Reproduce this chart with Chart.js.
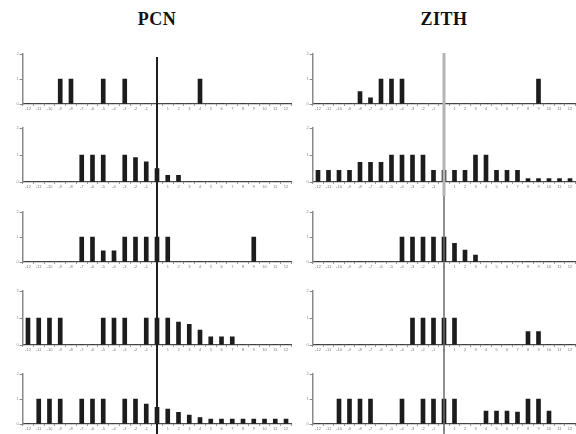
<!DOCTYPE html>
<html><head><meta charset="utf-8">
<script src="https://cdn.jsdelivr.net/npm/chart.js@4/dist/chart.umd.min.js"></script>
<style>
html,body{margin:0;padding:0;background:#fff}
body{width:576px;height:434px;overflow:hidden;position:relative;font-family:"Liberation Serif","DejaVu Serif",serif}
.t{position:absolute;font-weight:bold;font-size:18px;line-height:18px;top:10px;text-align:center;width:100px;color:#111;letter-spacing:0.5px}
canvas{position:absolute;display:block}
</style></head><body>
<div class="t" style="left:107px">PCN</div>
<div class="t" style="left:394px">ZITH</div>
<script>
// ---- data ----
const days = ['-12','-11','-10','-9','-8','-7','-6','-5','-4','-3','-2','-1','0','1','2','3','4','5','6','7','8','9','10','11','12'];
const yTickValues = [0, 1, 2];
const panelTitles = ['PCN', 'ZITH'];

const pcnRow1 = [0,0,0,1,1,0,0,1,0,1,0,0,0,0,0,0,1,0,0,0,0,0,0,0,0];
const pcnRow2 = [0,0,0,0,0,1,1,1,0,1,0.9,0.75,0.5,0.25,0.25,0,0,0,0,0,0,0,0,0,0];
const pcnRow3 = [0,0,0,0,0,1,1,0.45,0.45,1,1,1,1,1,0,0,0,0,0,0,0,1,0,0,0];
const pcnRow4 = [1,1,1,1,0,0,0,1,1,1,0,1,1,1,0.85,0.77,0.55,0.3,0.3,0.3,0,0,0,0,0];
const pcnRow5 = [0,1,1,1,0,1,1,1,0,1,1,0.8,0.67,0.6,0.47,0.36,0.26,0.2,0.2,0.2,0.2,0.2,0.2,0.2,0.2];

const zithRow1 = [0,0,0,0,0.5,0.25,1,1,1,0,0,0,0,0,0,0,0,0,0,0,0,1,0,0,0];
const zithRow2 = [0.43,0.43,0.43,0.43,0.73,0.73,0.73,1,1,1,1,0.43,0.43,0.43,0.43,1,1,0.43,0.43,0.43,0.13,0.13,0.13,0.13,0.13];
const zithRow3 = [0,0,0,0,0,0,0,0,1,1,1,1,1,0.75,0.48,0.28,0,0,0,0,0,0,0,0,0];
const zithRow4 = [0,0,0,0,0,0,0,0,0,1,1,1,1,1,0,0,0,0,0,0,0.5,0.5,0,0,0];
const zithRow5 = [0,0,1,1,1,1,0,0,1,0,1,1,1,1,0,0,0.52,0.52,0.52,0.48,1,1,0.52,0,0];

const pcnRows = [pcnRow1, pcnRow2, pcnRow3, pcnRow4, pcnRow5];
const zithRows = [zithRow1, zithRow2, zithRow3, zithRow4, zithRow5];
const markerDay = '0';

// ---- layout (not data) ----
const rowStart = [40, 116, 196, 276, 358, 434];
const rowBase  = [104, 182, 262, 345, 424];
const rowFull  = [25, 27, 25, 27, 25];
const cols = [
  {left: 0,   width: 296, yW: 22.6,  rp: 4.6,  rows: pcnRows},
  {left: 290, width: 286, yW: 22.75, rp: 0.75, rows: zithRows}
];

function lineStyle(c, r){
  if (c === 0) return {color:'#1e1e1e', width:2};
  return r < 2 ? {color:'#b4b4b4', width:3} : {color:'#6a6a6a', width:1.5};
}

cols.forEach((col, c) => {
  col.rows.forEach((vals, r) => {
    const top = rowStart[r], h = rowStart[r+1] - rowStart[r];
    const cv = document.createElement('canvas');
    cv.width = col.width; cv.height = h;
    cv.style.left = col.left + 'px'; cv.style.top = top + 'px';
    cv.style.width = col.width + 'px'; cv.style.height = h + 'px';
    document.body.appendChild(cv);
    const areaTop = rowBase[r] - 2 * rowFull[r];
    const ls = lineStyle(c, r);
    const markerPlugin = {
      id: 'marker',
      afterDatasetsDraw(chart){
        const x = chart.scales.x.getPixelForValue(days.indexOf(markerDay));
        const ctx = chart.ctx;
        ctx.save();
        ctx.strokeStyle = ls.color; ctx.lineWidth = ls.width;
        ctx.beginPath();
        ctx.moveTo(x, r === 0 ? chart.chartArea.top + (c === 0 ? 3 : -1) : 0);
        ctx.lineTo(x, chart.height);
        ctx.stroke();
        ctx.restore();
      }
    };
    new Chart(cv, {
      type: 'bar',
      data: { labels: days, datasets: [{ label: panelTitles[c], data: vals, backgroundColor: '#1c1c1c', barThickness: 4 }] },
      options: {
        responsive: false, animation: false, devicePixelRatio: 1,
        layout: { padding: { top: areaTop - top, left: 0, right: col.rp, bottom: 0 } },
        plugins: { legend: {display:false}, tooltip: {enabled:false}, title: {display:false} },
        scales: {
          x: {
            grid: { drawOnChartArea:false, drawTicks:true, tickLength:2, color:'#999' },
            border: { display:true, color:'#4a4a4a', width:1.2 },
            ticks: { autoSkip:false, maxRotation:0, minRotation:0, padding:0, color:'#777', font:{size:4, family:'Liberation Sans'} },
            afterFit(s){ s.height = rowStart[r+1] - rowBase[r]; s.paddingLeft = 0; s.paddingRight = 0; }
          },
          y: {
            min: 0, max: 2,
            afterBuildTicks(s){ s.ticks = yTickValues.map(v => ({value: v})); },
            grid: { drawOnChartArea:false, drawTicks:true, tickLength:3, color:'#888' },
            border: { display:true, color:'#8a8a8a', width:1.5 },
            ticks: { padding:1, color:'#888', font:{size:4, family:'Liberation Sans'} },
            afterFit(s){ s.width = col.yW; s.paddingTop = 0; s.paddingBottom = 0; }
          }
        }
      },
      plugins: [markerPlugin]
    });
  });
});
</script>
</body></html>
